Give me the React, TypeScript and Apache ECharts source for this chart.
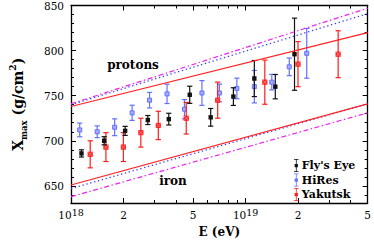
import React, { useEffect, useRef } from 'react';
import * as echarts from 'echarts';

// ---- data (x = log10(E/eV), y = Xmax in g/cm^2, err = half error bar) ----
const lgE_FlysEye = [18.06, 18.19, 18.31, 18.44, 18.56, 18.68, 18.80, 18.93, 19.05, 19.17, 19.28];
const xmax_FlysEye = [686, 700, 711, 723, 724, 751, 726, 749, 769, 760, 796];
const err_FlysEye = [4, 4.5, 5, 5, 6.5, 9.5, 9.8, 9.8, 20, 13.5, 40];

const lgE_HiRes = [18.05, 18.15, 18.25, 18.35, 18.45, 18.55, 18.65, 18.75, 18.85, 18.95, 19.05, 19.15, 19.25, 19.35];
const xmax_HiRes = [712, 710, 715, 731, 745, 752, 735, 753, 753, 758, 760, 765, 782, 797];
const err_HiRes = [7.6, 6.5, 9.3, 8.4, 8.6, 10.7, 10.7, 13.7, 9.8, 11.4, 18, 8.6, 9.8, 27.6];

const lgE_Yakutsk = [18.11, 18.2, 18.3, 18.4, 18.5, 18.66, 18.84, 19.11, 19.3, 19.53];
const xmax_Yakutsk = [685, 693, 693, 709, 717, 725, 745, 765, 785, 796];
const err_Yakutsk = [15, 16, 16, 16, 15.7, 17.5, 20, 24.5, 25, 26];

// theory lines (endpoints)
const lineLgE = [18, 19.699];
const protonSolid = [738, 820];
const protonDotted = [740, 841];
const protonDashDot = [741, 847];
const ironSolid = [651, 741];
const ironDotted = [647, 741];
const ironDashDot = [638, 731];

// axes
const X_MIN = 18;
const X_MAX = Math.log10(5e19);
const xMajorE = [1e18, 2e18, 5e18, 1e19, 2e19, 5e19];
const xTickLabels = ['10^18', '2', '5', '10^19', '2', '5'];
const xMinorE = [3e18, 4e18, 6e18, 7e18, 8e18, 9e18, 3e19, 4e19];
const Y_MIN = 631;
const Y_MAX = 850;
const yMajor = [650, 700, 750, 800, 850];
const yMinor = [640, 660, 670, 680, 690, 710, 720, 730, 740, 760, 770, 780, 790, 810, 820, 830, 840];

const seriesNames = ["Fly's Eye", 'HiRes', 'Yakutsk'];

const FONT = '"DejaVu Serif", serif';
const BLACK = '#111111';
const BLUE = '#6470ff';
const RED = '#ff1c1c';

const zip = (a: number[], b: number[], c: number[]) => a.map((v, i) => [v, b[i], c[i]]);
const lineData = (ys: number[]) => lineLgE.map((x, i) => [x, ys[i]]);

const EB_ICON = 'path://M4.4,0H5.6V20H4.4Z M1.5,0H8.5V1.2H1.5Z M1.5,18.8H8.5V20H1.5Z M2.5,7.5H7.5V12.5H2.5Z';

function makeRender(kind: 'black' | 'blue' | 'red') {
  const col = kind === 'black' ? BLACK : kind === 'blue' ? BLUE : RED;
  return (params: any, api: any) => {
    const x = api.value(0);
    const y = api.value(1);
    const e = api.value(2);
    const c = api.coord([x, y]);
    const t = api.coord([x, y + e]);
    const b = api.coord([x, y - e]);
    const cap = 2.6;
    const lw = 1.2;
    const children: any[] = [
      { type: 'line', shape: { x1: c[0], y1: t[1], x2: c[0], y2: b[1] }, style: { stroke: col, lineWidth: lw } },
      { type: 'line', shape: { x1: c[0] - cap, y1: t[1], x2: c[0] + cap, y2: t[1] }, style: { stroke: col, lineWidth: lw } },
      { type: 'line', shape: { x1: c[0] - cap, y1: b[1], x2: c[0] + cap, y2: b[1] }, style: { stroke: col, lineWidth: lw } },
    ];
    if (kind === 'black') {
      children.push({ type: 'rect', shape: { x: c[0] - 2.2, y: c[1] - 2.2, width: 4.4, height: 4.4 }, style: { fill: col } });
    } else if (kind === 'blue') {
      children.push({ type: 'rect', shape: { x: c[0] - 2, y: c[1] - 2, width: 4, height: 4 }, style: { fill: '#a6adff', stroke: col, lineWidth: 1 } });
    } else {
      children.push({ type: 'rect', shape: { x: c[0] - 2.6, y: c[1] - 2.6, width: 5.2, height: 5.2 }, style: { fill: col } });
      children.push({ type: 'line', shape: { x1: c[0] - 2.2, y1: c[1] - 2.2, x2: c[0] + 2.2, y2: c[1] + 2.2 }, style: { stroke: '#ff9a9a', lineWidth: 0.7 } });
      children.push({ type: 'line', shape: { x1: c[0] - 2.2, y1: c[1] + 2.2, x2: c[0] + 2.2, y2: c[1] - 2.2 }, style: { stroke: '#ff9a9a', lineWidth: 0.7 } });
    }
    return { type: 'group', children };
  };
}

export default function App() {
  const ref = useRef<HTMLDivElement>(null);
  useEffect(() => {
    if (!ref.current) return;
    const chart = echarts.init(ref.current, undefined, { renderer: 'svg' });
    const xMajor = xMajorE.map((v) => Math.log10(v));
    const xMinor = xMinorE.map((v) => Math.log10(v));
    const xFormatter = (v: number) => {
      let idx = 0;
      let best = Infinity;
      xMajor.forEach((m, i) => {
        const d = Math.abs(m - v);
        if (d < best) {
          best = d;
          idx = i;
        }
      });
      const s = xTickLabels[idx];
      if (s.includes('^')) {
        const [a, p] = s.split('^');
        return `{b|${a}}{sup|${p}}`;
      }
      return `{b|${s}}`;
    };
    const axisLineStyle = { color: '#000', width: 1.3 };
    const xCommon = { type: 'value', min: X_MIN, max: X_MAX, splitLine: { show: false }, gridIndex: 0 };
    const yCommon = { type: 'value', min: Y_MIN, max: Y_MAX, splitLine: { show: false }, gridIndex: 0 };
    const option: any = {
      animation: false,
      backgroundColor: '#fff',
      grid: { left: 62, right: 3, top: 4, bottom: 35, containLabel: false },
      xAxis: [
        {
          ...xCommon,
          position: 'bottom',
          axisLine: { show: true, lineStyle: axisLineStyle },
          axisTick: { show: true, inside: true, length: 5, customValues: xMajor, lineStyle: { color: '#000', width: 1 } },
          axisLabel: {
            show: true,
            customValues: xMajor,
            showMinLabel: true,
            showMaxLabel: true,
            margin: 4,
            formatter: xFormatter,
            rich: {
              b: { fontFamily: FONT, fontSize: 10.5, color: '#000', lineHeight: 16, verticalAlign: 'middle' },
              sup: { fontFamily: FONT, fontSize: 9.5, color: '#000', lineHeight: 10, verticalAlign: 'top' },
            },
          },
          name: 'E (eV)',
          nameLocation: 'middle',
          nameGap: 23,
          nameTextStyle: { fontFamily: FONT, fontWeight: 'bold', fontSize: 12, color: '#000' },
        },
        {
          ...xCommon,
          position: 'bottom',
          axisLine: { show: false },
          axisTick: { show: true, inside: true, length: 3, customValues: xMinor, lineStyle: { color: '#000', width: 1 } },
          axisLabel: { show: false },
        },
        {
          ...xCommon,
          position: 'top',
          axisLine: { show: true, lineStyle: axisLineStyle },
          axisTick: { show: true, inside: true, length: 5, customValues: xMajor, lineStyle: { color: '#000', width: 1 } },
          axisLabel: { show: false },
        },
        {
          ...xCommon,
          position: 'top',
          axisLine: { show: false },
          axisTick: { show: true, inside: true, length: 3, customValues: xMinor, lineStyle: { color: '#000', width: 1 } },
          axisLabel: { show: false },
        },
      ],
      yAxis: [
        {
          ...yCommon,
          position: 'left',
          axisLine: { show: true, lineStyle: axisLineStyle },
          axisTick: { show: true, inside: true, length: 5, customValues: yMajor, lineStyle: { color: '#000', width: 1 } },
          axisLabel: {
            show: true,
            customValues: yMajor,
            showMinLabel: true,
            showMaxLabel: true,
            margin: 7,
            fontFamily: FONT,
            fontSize: 10.5,
            color: '#000',
          },
          name: '{x|X}{sub|max}{n| (g/cm}{sup|2}{n|)}',
          nameLocation: 'middle',
          nameGap: 43,
          nameTextStyle: {
            rich: {
              x: { fontFamily: FONT, fontWeight: 'bold', fontSize: 14, color: '#000', lineHeight: 20, verticalAlign: 'middle' },
              sub: { fontFamily: FONT, fontWeight: 'bold', fontSize: 8.5, color: '#000', lineHeight: 11, verticalAlign: 'bottom' },
              n: { fontFamily: FONT, fontWeight: 'bold', fontSize: 14, color: '#000', lineHeight: 20, verticalAlign: 'middle' },
              sup: { fontFamily: FONT, fontWeight: 'bold', fontSize: 9, color: '#000', lineHeight: 11, verticalAlign: 'top' },
            },
          },
        },
        {
          ...yCommon,
          position: 'left',
          axisLine: { show: false },
          axisTick: { show: true, inside: true, length: 3, customValues: yMinor, lineStyle: { color: '#000', width: 1 } },
          axisLabel: { show: false },
        },
        {
          ...yCommon,
          position: 'right',
          axisLine: { show: true, lineStyle: axisLineStyle },
          axisTick: { show: true, inside: true, length: 5, customValues: yMajor, lineStyle: { color: '#000', width: 1 } },
          axisLabel: { show: false },
        },
        {
          ...yCommon,
          position: 'right',
          axisLine: { show: false },
          axisTick: { show: true, inside: true, length: 3, customValues: yMinor, lineStyle: { color: '#000', width: 1 } },
          axisLabel: { show: false },
        },
      ],
      legend: {
        orient: 'vertical',
        left: 294,
        top: 159,
        padding: 0,
        itemWidth: 7,
        itemHeight: 13,
        itemGap: 1.5,
        selectedMode: false,
        textStyle: { fontFamily: FONT, fontSize: 11, fontWeight: 'bold', color: '#000', padding: [0, 0, 0, -3] },
        data: seriesNames.map((n) => ({ name: n, icon: EB_ICON })),
      },
      graphic: [
        {
          type: 'text',
          x: 133,
          y: 65,
          style: { text: 'protons', fontFamily: FONT, fontWeight: 'bold', fontSize: 12, fill: '#000', align: 'center', verticalAlign: 'middle' },
        },
        {
          type: 'text',
          x: 173,
          y: 181,
          style: { text: 'iron', fontFamily: FONT, fontWeight: 'bold', fontSize: 12, fill: '#000', align: 'center', verticalAlign: 'middle' },
        },
      ],
      series: [
        { type: 'line', data: lineData(protonDashDot), showSymbol: false, silent: true, lineStyle: { color: '#ee22ee', width: 1.2, type: [5, 2.5, 1.5, 2.5] } },
        { type: 'line', data: lineData(protonDotted), showSymbol: false, silent: true, lineStyle: { color: '#3a3aff', width: 1.3, type: [1.3, 2.7] } },
        { type: 'line', data: lineData(protonSolid), showSymbol: false, silent: true, lineStyle: { color: '#ff2222', width: 1.2, type: 'solid' } },
        { type: 'line', data: lineData(ironDashDot), showSymbol: false, silent: true, lineStyle: { color: '#ee22ee', width: 1.2, type: [5, 2.5, 1.5, 2.5] } },
        { type: 'line', data: lineData(ironDotted), showSymbol: false, silent: true, lineStyle: { color: '#3a3aff', width: 1.3, type: [1.3, 2.7] } },
        { type: 'line', data: lineData(ironSolid), showSymbol: false, silent: true, lineStyle: { color: '#ff2222', width: 1.2, type: 'solid' } },
        {
          name: seriesNames[1],
          type: 'custom',
          coordinateSystem: 'cartesian2d',
          itemStyle: { color: BLUE },
          encode: { x: 0, y: 1 },
          renderItem: makeRender('blue'),
          data: zip(lgE_HiRes, xmax_HiRes, err_HiRes),
        },
        {
          name: seriesNames[2],
          type: 'custom',
          coordinateSystem: 'cartesian2d',
          itemStyle: { color: RED },
          encode: { x: 0, y: 1 },
          renderItem: makeRender('red'),
          data: zip(lgE_Yakutsk, xmax_Yakutsk, err_Yakutsk),
        },
        {
          name: seriesNames[0],
          type: 'custom',
          coordinateSystem: 'cartesian2d',
          itemStyle: { color: BLACK },
          encode: { x: 0, y: 1 },
          renderItem: makeRender('black'),
          data: zip(lgE_FlysEye, xmax_FlysEye, err_FlysEye),
        },
      ],
    };
    chart.setOption(option);
    return () => chart.dispose();
  }, []);
  return <div ref={ref} style={{ position: 'absolute', left: 0, top: 0, width: 374, height: 243, background: '#fff' }} />;
}
